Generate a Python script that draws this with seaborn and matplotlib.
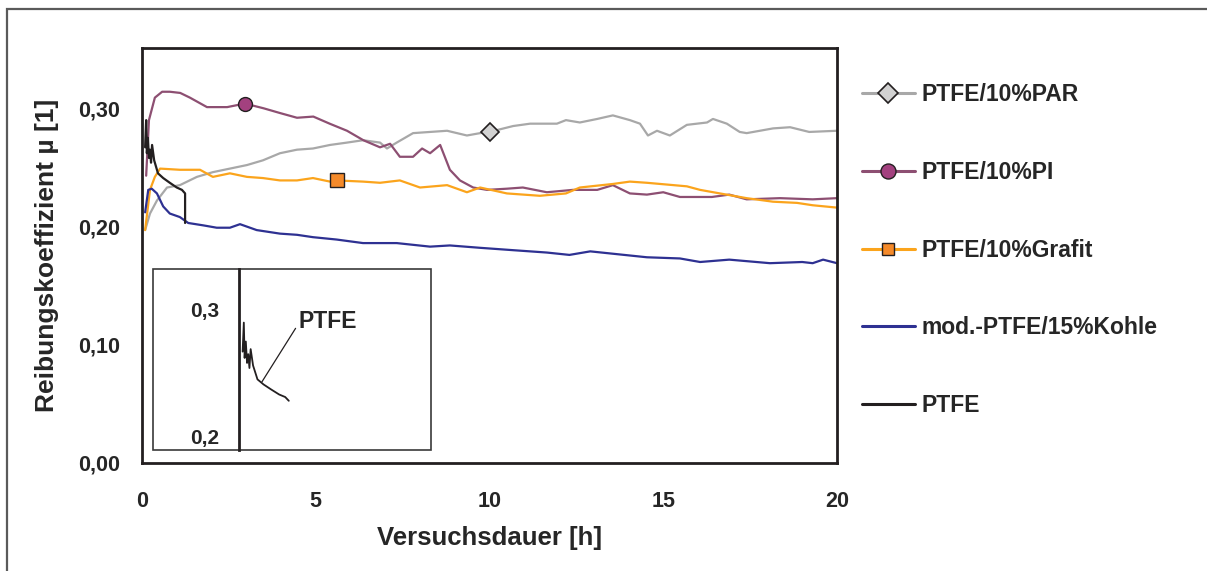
import matplotlib
matplotlib.use("Agg")
import matplotlib.pyplot as plt
from matplotlib.lines import Line2D
from matplotlib.patches import Rectangle
import pandas as pd
import seaborn as sns

# Friction coefficient over test duration for PTFE compounds
par_h = [0.09, 0.23, 0.43, 0.72, 1.09, 1.58, 2.04, 2.53, 3.02, 3.48, 3.97, 4.46, 4.92, 5.41, 5.9, 6.36,
         6.85, 7.05, 7.33, 7.8, 8.29, 8.78, 9.35, 9.73, 10.0, 10.68, 11.17, 11.94, 12.2, 12.6, 13.1, 13.55,
         14.04, 14.33, 14.56, 14.82, 15.19, 15.68, 16.26, 16.43, 16.83, 17.2, 17.4, 18.16, 18.65, 19.2, 20.0]
par_mu = [0.197, 0.211, 0.222, 0.233, 0.235, 0.242, 0.246, 0.249, 0.252, 0.256, 0.262, 0.265, 0.266, 0.269,
          0.271, 0.273, 0.271, 0.266, 0.271, 0.279, 0.280, 0.281, 0.277, 0.279, 0.280, 0.285, 0.287, 0.287,
          0.290, 0.288, 0.291, 0.294, 0.290, 0.287, 0.277, 0.281, 0.277, 0.286, 0.288, 0.291, 0.287, 0.280,
          0.279, 0.283, 0.284, 0.280, 0.281]

pi_h = [0.12, 0.2, 0.37, 0.58, 0.8, 1.1, 1.38, 1.87, 2.45, 2.96, 3.5, 3.97, 4.46, 4.93, 5.4, 5.9, 6.37,
        6.85, 7.14, 7.42, 7.8, 8.06, 8.29, 8.58, 8.86, 9.15, 9.53, 9.93, 10.5, 10.96, 11.65, 12.4, 13.1,
        13.55, 14.04, 14.53, 15.0, 15.48, 16.4, 16.9, 17.4, 18.36, 19.3, 20.0]
pi_mu = [0.243, 0.290, 0.309, 0.314, 0.314, 0.313, 0.309, 0.301, 0.301, 0.304, 0.300, 0.296, 0.292, 0.293,
         0.287, 0.281, 0.273, 0.267, 0.270, 0.259, 0.259, 0.266, 0.262, 0.269, 0.248, 0.239, 0.233, 0.231,
         0.232, 0.233, 0.229, 0.231, 0.231, 0.235, 0.228, 0.227, 0.229, 0.225, 0.225, 0.227, 0.223, 0.224,
         0.223, 0.224]

grafit_h = [0.09, 0.23, 0.37, 0.52, 1.09, 1.67, 2.04, 2.53, 3.02, 3.48, 3.97, 4.46, 4.92, 5.41, 5.6, 6.36,
            6.85, 7.42, 8.0, 8.78, 9.35, 9.73, 10.5, 11.45, 12.2, 12.6, 13.55, 14.04, 14.53, 15.3, 15.68,
            16.06, 16.63, 17.4, 18.16, 18.85, 19.3, 20.0]
grafit_mu = [0.197, 0.231, 0.242, 0.249, 0.248, 0.248, 0.242, 0.245, 0.242, 0.241, 0.239, 0.239, 0.241,
             0.238, 0.239, 0.238, 0.237, 0.239, 0.233, 0.235, 0.229, 0.233, 0.228, 0.226, 0.228, 0.233,
             0.236, 0.238, 0.237, 0.235, 0.234, 0.231, 0.228, 0.224, 0.221, 0.220, 0.218, 0.216]

kohle_h = [0.09, 0.18, 0.28, 0.43, 0.61, 0.8, 1.09, 1.33, 1.76, 2.15, 2.53, 2.82, 3.3, 3.97, 4.46, 4.92,
           5.6, 6.36, 6.85, 7.33, 8.29, 8.86, 9.73, 10.68, 11.65, 12.3, 12.9, 13.55, 14.53, 15.48, 16.06,
           16.9, 18.07, 19.0, 19.3, 19.6, 20.0]
kohle_mu = [0.212, 0.231, 0.232, 0.228, 0.217, 0.211, 0.208, 0.203, 0.201, 0.199, 0.199, 0.202, 0.197,
            0.194, 0.193, 0.191, 0.189, 0.186, 0.186, 0.186, 0.183, 0.184, 0.182, 0.180, 0.178, 0.176,
            0.179, 0.177, 0.174, 0.173, 0.170, 0.172, 0.169, 0.170, 0.169, 0.172, 0.169]

ptfe_h = [0.09, 0.12, 0.14, 0.17, 0.2, 0.23, 0.26, 0.29, 0.35, 0.46, 0.61, 0.8, 1.0, 1.15, 1.24, 1.24]
ptfe_mu = [0.267, 0.290, 0.262, 0.275, 0.258, 0.265, 0.254, 0.269, 0.256, 0.245, 0.241, 0.237, 0.233,
           0.231, 0.228, 0.203]

# single highlighted points on each filled compound
mark_par = (10.0, 0.280)
mark_pi = (2.96, 0.304)
mark_grafit = (5.6, 0.239)

labels = ["PTFE/10%PAR", "PTFE/10%PI", "PTFE/10%Grafit", "mod.-PTFE/15%Kohle", "PTFE"]
x_ticks = [0, 5, 10, 15, 20]
y_ticks = [0.0, 0.1, 0.2, 0.3]
y_ticklabels = ["0,00", "0,10", "0,20", "0,30"]
inset_ticks = [0.2, 0.3]
inset_ticklabels = ["0,2", "0,3"]

col_par, col_par_m = "#A8A8A8", "#D2D2D2"
col_pi, col_pi_m = "#8D4F72", "#A3417F"
col_gr, col_gr_m = "#FBA41C", "#F58A2A"
col_ko = "#2E3192"
col_pt = "#231F20"
edge = "#231F20"

sns.set_style("white")
plt.rcParams["font.family"] = ["Liberation Sans", "DejaVu Sans"]
plt.rcParams["font.weight"] = "bold"

W, H = 1207, 571
fig = plt.figure(figsize=(W / 100, H / 100), dpi=100)

def fx(px):
    return px / W

def fy(py):
    return 1 - py / H

# outer frame
fig.add_artist(Rectangle((fx(7), -0.2), 1.5, fy(9) + 0.2, transform=fig.transFigure,
                         fill=False, edgecolor="#5A5A5A", linewidth=1.6))

ax = fig.add_axes([fx(142), fy(463), fx(837) - fx(142), fy(48) - fy(463)])

series = [
    (par_h, par_mu, col_par),
    (pi_h, pi_mu, col_pi),
    (grafit_h, grafit_mu, col_gr),
    (kohle_h, kohle_mu, col_ko),
    (ptfe_h, ptfe_mu, col_pt),
]
for h, mu, c in series:
    df = pd.DataFrame({"h": h, "mu": mu})
    sns.lineplot(data=df, x="h", y="mu", ax=ax, color=c, linewidth=1.6, sort=False,
                 estimator=None, legend=False)

ax.plot(*mark_par, marker="D", markersize=8.7, markerfacecolor=col_par_m, markeredgecolor=edge,
        markeredgewidth=1.2, linestyle="none")
ax.plot(*mark_pi, marker="o", markersize=10, markerfacecolor=col_pi_m, markeredgecolor=edge,
        markeredgewidth=1.0, linestyle="none")
ax.plot(*mark_grafit, marker="s", markersize=9.5, markerfacecolor=col_gr_m, markeredgecolor=edge,
        markeredgewidth=1.0, linestyle="none")

ax.set_xlim(0, 20)
ax.set_ylim(0, 0.351)
ax.set_xticks(x_ticks)
ax.set_xticklabels([str(t) for t in x_ticks])
ax.set_yticks(y_ticks)
ax.set_yticklabels(y_ticklabels)
ax.tick_params(direction="out", length=5.5, width=1, color=col_pt, labelsize=15.5)
ax.tick_params(axis="x", pad=15)
ax.tick_params(axis="y", pad=10)
for lab in ax.get_xticklabels() + ax.get_yticklabels():
    lab.set_fontweight("bold")
for s in ax.spines.values():
    s.set_visible(True)
    s.set_color(col_pt)
    s.set_linewidth(2)
ax.set_xlabel("Versuchsdauer [h]", fontsize=18.5, fontweight="bold", labelpad=10)
ax.set_ylabel("Reibungskoeffizient µ [1]", fontsize=19, fontweight="bold", labelpad=14)

# inset frame and zoomed axis for PTFE
fig.add_artist(Rectangle((fx(153), fy(450)), fx(431) - fx(153), fy(269) - fy(450),
                         transform=fig.transFigure, fill=True, facecolor="white",
                         edgecolor="#3A3A3A", linewidth=1.2, zorder=3))
axi = fig.add_axes([fx(239), fy(450), fx(431) - fx(239), fy(269) - fy(450)], zorder=4)
axi.patch.set_alpha(0)
sns.lineplot(x=ptfe_h[:-1], y=ptfe_mu[:-1], ax=axi, color=col_pt, linewidth=1.3, sort=False,
             estimator=None, legend=False)
axi.set_xlim(0, 4.78)
axi.set_ylim(0.189, 0.3325)
axi.set_xticks([])
axi.set_yticks(inset_ticks)
axi.set_yticklabels(inset_ticklabels)
axi.tick_params(axis="y", direction="in", length=7, width=1, color=col_pt, labelsize=15, pad=14)
for lab in axi.get_yticklabels():
    lab.set_fontweight("bold")
for k, s in axi.spines.items():
    s.set_visible(k == "left")
axi.spines["left"].set_color(col_pt)
axi.spines["left"].set_linewidth(2)
axi.annotate("PTFE", xy=(0.57, 0.243), xytext=(1.49, 0.2905), fontsize=16.5, fontweight="bold",
             ha="left", va="center",
             arrowprops=dict(arrowstyle="-", color=col_pt, lw=0.9, shrinkA=0, shrinkB=0,
                             relpos=(0, 0.45)))

# legend
handles = [
    Line2D([], [], color=col_par, lw=2.2, marker="D", markersize=10, markerfacecolor=col_par_m,
           markeredgecolor=edge, markeredgewidth=1.2),
    Line2D([], [], color=col_pi, lw=2.2, marker="o", markersize=10.8, markerfacecolor=col_pi_m,
           markeredgecolor=edge, markeredgewidth=1.0),
    Line2D([], [], color=col_gr, lw=2.2, marker="s", markersize=9, markerfacecolor=col_gr_m,
           markeredgecolor=edge, markeredgewidth=1.0),
    Line2D([], [], color=col_ko, lw=2.2),
    Line2D([], [], color=col_pt, lw=2.2),
]
fig.legend(handles, labels, loc="upper left", bbox_to_anchor=(fx(862), fy(83)), frameon=False,
           prop={"size": 16.5, "weight": "bold"}, labelspacing=2.39, handlelength=2.3,
           handletextpad=0.3, borderpad=0, borderaxespad=0)

fig.savefig("out.png", dpi=100)
